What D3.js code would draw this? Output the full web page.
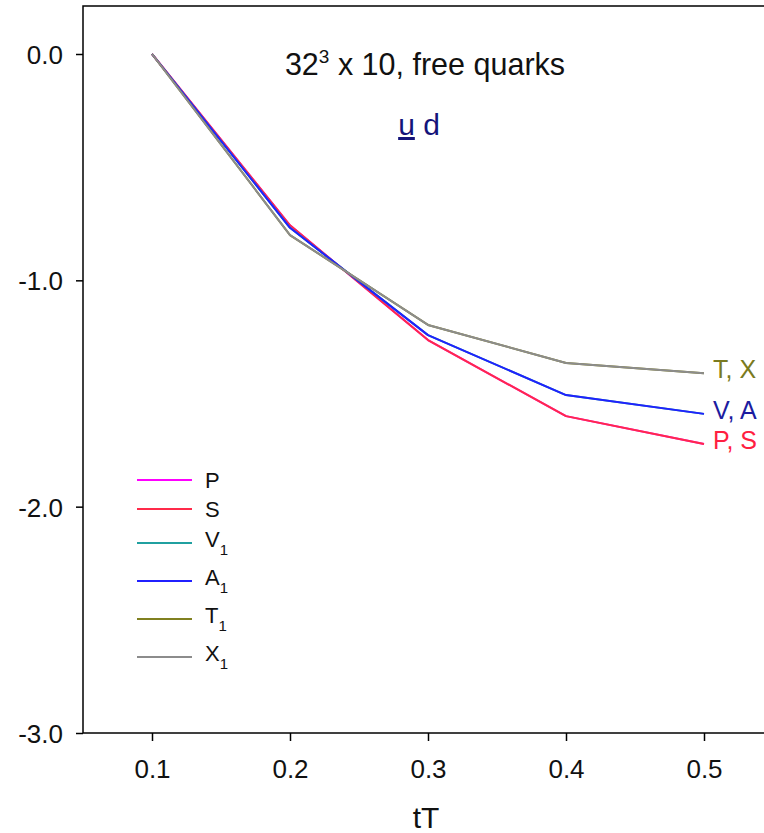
<!DOCTYPE html>
<html>
<head>
<meta charset="utf-8">
<script src="https://cdn.jsdelivr.net/npm/d3@7"></script>
<style>
  html, body { margin: 0; padding: 0; background: #fff; }
  svg { display: block; font-family: Arial, "Liberation Sans", sans-serif; }
</style>
</head>
<body>
<svg id="chart" width="764" height="833"></svg>
<script>
// tT values along the horizontal axis
const tT = [0.1, 0.2, 0.3, 0.4, 0.5];

// Channel curves (free quarks, 32^3 x 10)
const P  = [0, -0.757, -1.264, -1.600, -1.723];
const S  = [0, -0.757, -1.264, -1.600, -1.723];
const V1 = [0, -0.768, -1.242, -1.507, -1.590];
const A1 = [0, -0.768, -1.242, -1.507, -1.590];
const T1 = [0, -0.800, -1.197, -1.365, -1.410];
const X1 = [0, -0.800, -1.197, -1.365, -1.410];

const seriesNames = ["P", "S", "V1", "A1", "T1", "X1"];
const seriesValues = [P, S, V1, A1, T1, X1];
const seriesColors = ["#ff00ff", "#ff2a4a", "#20a0a0", "#2020ff", "#808020", "#8c8c8c"];

const xTicks = [0.1, 0.2, 0.3, 0.4, 0.5];
const yTicks = [0, -1, -2, -3];

// Pair labels at the right-hand end of the curves
const endLabels = [
  { text: "T, X", value: T1[4], color: "#7a7a20" },
  { text: "V, A", value: A1[4], color: "#1c1ca0" },
  { text: "P, S", value: S[4],  color: "#ff2040" }
];

const svg = d3.select("#chart");
const mLeft = 83, mTop = 6, mBottom = 733, mRight = 773;
const FONT = "Arial, 'Liberation Sans', sans-serif";

const x = d3.scaleLinear().domain([0.05, 0.55]).range([mLeft, mRight]);
const y = d3.scaleLinear().domain([-3, 0]).range([mBottom, 54]);

// Frame
svg.append("rect")
  .attr("x", mLeft).attr("y", mTop)
  .attr("width", mRight - mLeft).attr("height", mBottom - mTop)
  .attr("fill", "none").attr("stroke", "#000").attr("stroke-width", 1.5);

// Axes
const fmt = d => d.toFixed(1);
const yAxis = d3.axisLeft(y).tickValues(yTicks).tickFormat(fmt).tickSize(7).tickSizeOuter(0);
const gy = svg.append("g").attr("transform", `translate(${mLeft},0)`).call(yAxis);
gy.select(".domain").remove();
gy.attr("font-size", null).attr("font-family", null);
gy.selectAll("line").attr("stroke", "#000").attr("stroke-width", 1.5);
gy.selectAll("text").attr("font-size", 26).attr("fill", "#111").attr("x", -20)
  .attr("dy", "0.36em").attr("font-family", FONT);

const xAxis = d3.axisBottom(x).tickValues(xTicks).tickFormat(fmt).tickSize(8).tickSizeOuter(0);
const gx = svg.append("g").attr("transform", `translate(0,${mBottom})`).call(xAxis);
gx.select(".domain").remove();
gx.attr("font-size", null).attr("font-family", null);
gx.selectAll("line").attr("stroke", "#000").attr("stroke-width", 1.5);
gx.selectAll("text").attr("font-size", 26).attr("fill", "#111").attr("y", 45)
  .attr("dy", 0).attr("font-family", FONT);

// Axis title
svg.append("text").attr("x", x(0.3) - 2).attr("y", 828).attr("text-anchor", "middle")
  .attr("font-size", 30).attr("fill", "#111").text("tT");

// Curves
const line = d3.line().x((d, i) => x(tT[i])).y(d => y(d));
const plot = svg.append("g");
seriesValues.forEach((vals, k) => {
  plot.append("path").datum(vals)
    .attr("d", line)
    .attr("fill", "none")
    .attr("stroke", seriesColors[k])
    .attr("stroke-width", 2)
    .attr("stroke-linejoin", "round");
});

// End labels
endLabels.forEach(l => {
  svg.append("text").attr("x", x(0.5) + 9).attr("y", y(l.value) + 5)
    .attr("font-size", 25).attr("fill", l.color).text(l.text);
});

// Title
const title = svg.append("text").attr("x", 425).attr("y", 75).attr("text-anchor", "middle")
  .attr("font-size", 30.5).attr("fill", "#111");
title.append("tspan").text("32");
title.append("tspan").attr("font-size", 19).attr("dy", -12).text("3");
title.append("tspan").attr("dy", 12).text(" x 10, free quarks");

// Flavour content: anti-u (bar underneath) and d
const flav = svg.append("text").attr("x", 419).attr("y", 135).attr("text-anchor", "middle")
  .attr("font-size", 30).attr("fill", "#14147a");
const uSpan = flav.append("tspan").text("u");
flav.append("tspan").text(" d");
const ub = uSpan.node().getBBox();
svg.append("rect").attr("x", ub.x).attr("y", 137).attr("width", ub.width).attr("height", 3)
  .attr("fill", "#14147a");

// Legend
const legendY = [480, 509, 543, 581, 619, 657];
const legend = svg.append("g");
seriesNames.forEach((name, k) => {
  const ly = legendY[k];
  legend.append("line").attr("x1", 137).attr("x2", 192).attr("y1", ly).attr("y2", ly)
    .attr("stroke", seriesColors[k]).attr("stroke-width", 2);
  const t = legend.append("text").attr("x", 205).attr("y", name.length > 1 ? ly + 4 : ly + 8)
    .attr("font-size", 22).attr("fill", "#111");
  t.append("tspan").text(name[0]);
  if (name.length > 1) {
    t.append("tspan").attr("font-size", 15).attr("dy", 8).text(name.slice(1));
  }
});
</script>
</body>
</html>
